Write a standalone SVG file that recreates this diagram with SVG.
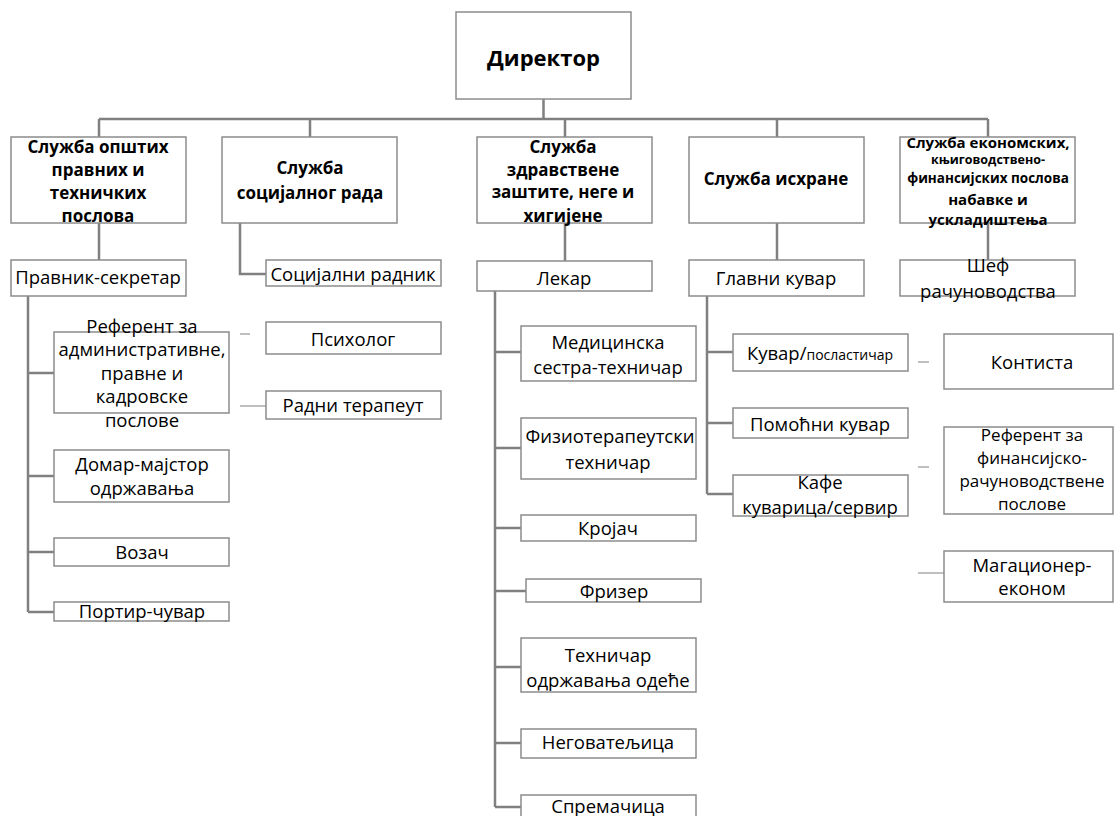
<svg xmlns="http://www.w3.org/2000/svg" width="1114" height="816" viewBox="0 0 1114 816">
<style>
.b{fill:#fff;stroke:#8c8c8c;stroke-width:1.5}
.c{fill:none;stroke:#808080;stroke-width:2.5}
.t{fill:none;stroke:#808080;stroke-width:1}
text{font-family:"Open Sans","Liberation Sans",sans-serif;fill:#000;text-anchor:middle}
.r{font-size:18.5px}
.s{font-size:17px}
.h{font-size:17px;font-weight:bold}
</style>
<rect width="1114" height="816" fill="#fff"/>
<g id="connectors">
<path class="c" d="M543.5 99V119M99 119H988M99 119V137M310 119V137M565 119V137M777 119V137M988 119V137"/>
<path class="c" d="M99 223V260M240 223V274H266M565 223V261M777 223V260M988 223V260"/>
<path class="c" d="M28 296V612M28 373H54M28 476H54M28 552H54M28 612H54"/>
<path class="c" d="M495 291V807M495 352H521M495 448H521M495 528H521M495 591H526M495 667H521M495 743H521M495 807H521"/>
<path class="c" d="M707 296V494M707 352H733M707 423H733M707 494H733"/>
<path class="t" d="M240 334H250M240 406H272M918 362H929M918 467H929M918 573H949M521 352H527M733 494H737"/>
</g>
<g id="director"><rect class="b" x="456" y="12" width="175" height="87"/><text x="543.5" y="66" style="font-size:22px;font-weight:bold">Директор</text></g>
<g id="sluzba-opstih"><rect class="b" x="11" y="137" width="175" height="86"/><text class="h" x="98" y="153">Служба општих</text><text class="h" x="98" y="176">правних и</text><text class="h" x="98" y="199">техничких</text><text class="h" x="98" y="222">послова</text></g>
<g id="sluzba-socijalnog"><rect class="b" x="222" y="137" width="175" height="86"/><text class="h" x="310" y="174">Служба</text><text class="h" x="310" y="199">социјалног рада</text></g>
<g id="sluzba-zdravstvene"><rect class="b" x="477" y="137" width="175" height="86"/><text class="h" x="563" y="153">Служба</text><text class="h" x="563" y="176">здравствене</text><text class="h" x="563" y="198">заштите, неге и</text><text class="h" x="563" y="222">хигијене</text></g>
<g id="sluzba-ishrane"><rect class="b" x="689" y="137" width="175" height="86"/><text class="h" x="776" y="185">Служба исхране</text></g>
<g id="sluzba-ekonomskih"><rect class="b" x="900" y="137" width="175" height="86"/><text x="988" y="148" style="font-size:15px;font-weight:bold">Служба економских,</text><text x="988" y="164" style="font-size:12.5px;font-weight:bold">књиговодствено-</text><text x="988" y="183" style="font-size:13.5px;font-weight:bold">финансијских послова</text><text x="988" y="205" style="font-size:15px;font-weight:bold">набавке и</text><text x="988" y="225" style="font-size:15px;font-weight:bold">ускладиштења</text></g>
<g id="pravnik"><rect class="b" x="11" y="260" width="175" height="36"/><text class="r" x="98" y="284">Правник-секретар</text></g>
<g id="socijalni-radnik"><rect class="b" x="266" y="260" width="175" height="26"/><text class="r" x="353" y="281">Социјални радник</text></g>
<g id="lekar"><rect class="b" x="477" y="261" width="175" height="30"/><text class="r" x="564" y="285">Лекар</text></g>
<g id="glavni-kuvar"><rect class="b" x="689" y="260" width="175" height="36"/><text class="r" x="776" y="285">Главни кувар</text></g>
<g id="sef"><rect class="b" x="900" y="260" width="175" height="36"/><text class="r" x="988" y="272">Шеф</text><text class="r" x="988" y="298">рачуноводства</text></g>
<g id="referent-adm"><rect class="b" x="54" y="332" width="175" height="81"/><text class="r" x="142" y="333">Референт за</text><text class="r" x="142" y="356">административне,</text><text class="r" x="142" y="380">правне и</text><text class="r" x="142" y="403">кадровске</text><text class="r" x="142" y="427">послове</text></g>
<g id="psiholog"><rect class="b" x="266" y="322" width="175" height="32"/><text class="r" x="353" y="346">Психолог</text></g>
<g id="radni-terapeut"><rect class="b" x="266" y="391" width="175" height="28"/><text class="r" x="353" y="412">Радни терапеут</text></g>
<g id="domar"><rect class="b" x="54" y="450" width="175" height="52"/><text class="r" x="142" y="471">Домар-мајстор</text><text class="r" x="142" y="495">одржавања</text></g>
<g id="vozac"><rect class="b" x="54" y="538" width="175" height="28"/><text class="r" x="142" y="559">Возач</text></g>
<g id="portir"><rect class="b" x="54" y="602" width="175" height="19"/><text class="r" x="142" y="618">Портир-чувар</text></g>
<g id="medicinska"><rect class="b" x="521" y="326" width="175" height="55"/><text class="r" x="608" y="349">Медицинска</text><text class="r" x="608" y="374">сестра-техничар</text></g>
<g id="fizioterapeutski"><rect class="b" x="521" y="418" width="175" height="61"/><text class="r" x="610" y="443">Физиотерапеутски</text><text class="r" x="608" y="469">техничар</text></g>
<g id="krojac"><rect class="b" x="521" y="515" width="175" height="26"/><text class="r" x="608" y="535">Кројач</text></g>
<g id="frizer"><rect class="b" x="526" y="579" width="175" height="23"/><text class="r" x="614" y="598">Фризер</text></g>
<g id="tehnicar"><rect class="b" x="521" y="638" width="175" height="54"/><text class="r" x="608" y="662">Техничар</text><text class="r" x="608" y="687">одржавања одеће</text></g>
<g id="negovateljica"><rect class="b" x="521" y="729" width="175" height="29"/><text class="r" x="608" y="749">Неговатељица</text></g>
<g id="spremacica"><rect class="b" x="521" y="795" width="175" height="30"/><text class="r" x="608" y="813">Спремачица</text></g>
<g id="kuvar-poslasticar"><rect class="b" x="733" y="334" width="175" height="37"/><text class="r" x="820" y="360">Кувар/<tspan style="font-size:14px">посластичар</tspan></text></g>
<g id="pomocni-kuvar"><rect class="b" x="733" y="408" width="175" height="30"/><text class="r" x="820" y="431">Помоћни кувар</text></g>
<g id="kafe"><rect class="b" x="733" y="475" width="175" height="41"/><text class="r" x="820" y="489">Кафе</text><text class="r" x="820" y="514">куварица/сервир</text></g>
<g id="kontista"><rect class="b" x="944" y="334" width="169" height="55"/><text class="r" x="1032" y="369">Контиста</text></g>
<g id="referent-fin"><rect class="b" x="944" y="427" width="169" height="87"/><text class="s" x="1032" y="441">Референт за</text><text class="s" x="1032" y="464">финансијско-</text><text class="s" x="1032" y="487">рачуноводствене</text><text class="s" x="1032" y="510">послове</text></g>
<g id="magacioner"><rect class="b" x="944" y="551" width="169" height="51"/><text class="r" x="1032" y="572">Магационер-</text><text class="r" x="1032" y="595">економ</text></g>
</svg>
